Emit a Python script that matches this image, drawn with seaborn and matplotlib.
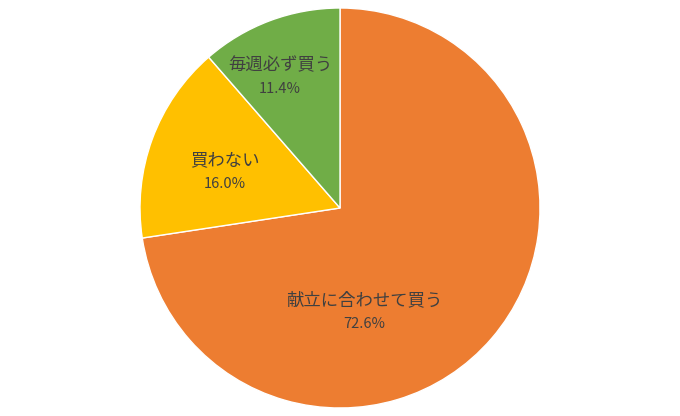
import matplotlib
matplotlib.use("Agg")
import matplotlib.pyplot as plt
import seaborn as sns

# data
labels = ["献立に合わせて買う", "買わない", "毎週必ず買う"]
shares = [72.6, 16.0, 11.4]
colors = ["#ED7D31", "#FFC000", "#70AD47"]
# label anchor points in units of the pie radius (Excel-style placement)
label_pos = [(0.12, -0.46), (-0.575, 0.24), (-0.30, 0.715)]

sns.set_theme(style="white")
plt.rcParams['font.family'] = ['Noto Sans CJK JP', 'DejaVu Sans']

fig = plt.figure(figsize=(6.8, 4.16), dpi=100)
ax = fig.add_axes([0, 0, 1, 1])

ax.pie(shares, colors=colors, startangle=90, counterclock=False, radius=1,
       wedgeprops=dict(edgecolor="white", linewidth=1))

txt_color = "#404040"
for name, val, (x, y) in zip(labels, shares, label_pos):
    ax.text(x, y, name, ha="center", va="center", fontsize=12.5, color=txt_color)
    ax.text(x, y - 0.118, f"{val:.1f}%", ha="center", va="center", fontsize=10.5, color=txt_color)

ax.set_aspect("equal")
ax.set_ylim(-1.04, 1.04)
ax.set_xlim(-1.04 * 680 / 416, 1.04 * 680 / 416)
ax.axis("off")

fig.savefig("out.png", dpi=100, facecolor="white")
